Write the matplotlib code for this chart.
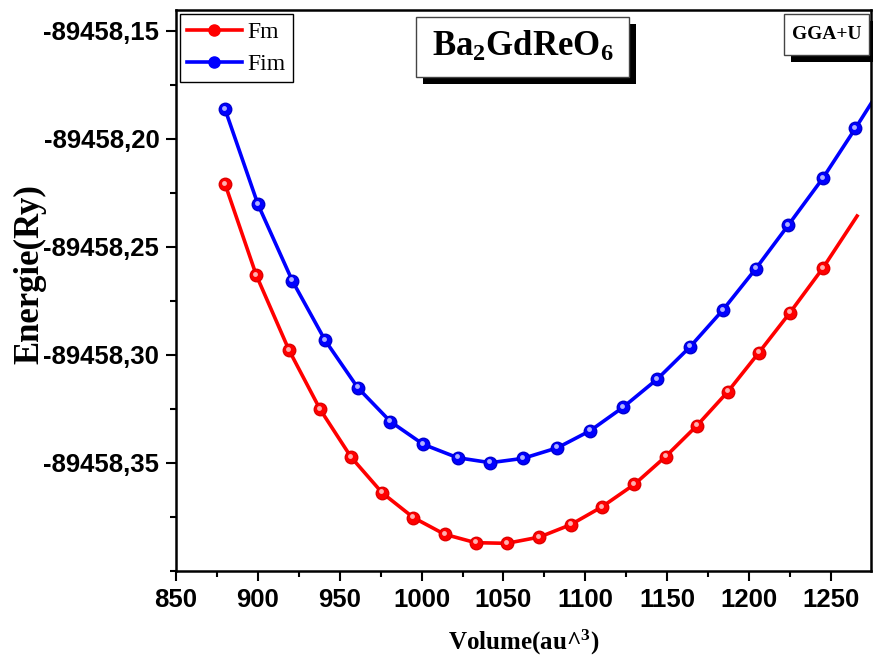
import numpy as np
import matplotlib
matplotlib.use("Agg")
import matplotlib.pyplot as plt
from matplotlib.ticker import FuncFormatter, AutoMinorLocator
from matplotlib.patches import Rectangle
from matplotlib.transforms import ScaledTranslation

plt.rcParams['mathtext.fontset'] = 'custom'
plt.rcParams['mathtext.rm'] = 'Liberation Serif:bold'
plt.rcParams['mathtext.it'] = 'Liberation Serif:bold'
plt.rcParams['mathtext.bf'] = 'Liberation Serif:bold'

# Donnees (Volume en au^3, Energie en Ry)
v_fm = [880, 899, 919, 938, 957, 976, 995, 1014, 1033, 1052,
        1072, 1091, 1110, 1130, 1149, 1168, 1187, 1206, 1225, 1245]
e_fm = [-89458.2211, -89458.2631, -89458.2978, -89458.3252, -89458.3474,
        -89458.3639, -89458.3753, -89458.3830, -89458.3869, -89458.3872,
        -89458.3843, -89458.3786, -89458.3704, -89458.3599, -89458.3471,
        -89458.3329, -89458.3171, -89458.2990, -89458.2805, -89458.2600]
# fin de la courbe ajustee (sans symbole)
v_fm_end, e_fm_end = 1266, -89458.2358

v_fim = [880, 900, 921, 941, 961, 981, 1001, 1022, 1042, 1062,
         1083, 1103, 1123, 1144, 1164, 1184, 1204, 1224, 1245, 1265]
e_fim = [-89458.1865, -89458.2303, -89458.2657, -89458.2932, -89458.3152,
         -89458.3309, -89458.3414, -89458.3476, -89458.3499, -89458.3479,
         -89458.3430, -89458.3351, -89458.3243, -89458.3112, -89458.2963,
         -89458.2793, -89458.2603, -89458.2400, -89458.2184, -89458.1952]
v_fim_end, e_fim_end = 1276, -89458.1820

y_ticks = [-89458.35, -89458.30, -89458.25, -89458.20, -89458.15]
x_ticks = [850, 900, 950, 1000, 1050, 1100, 1150, 1200, 1250]

fig = plt.figure(figsize=(8.73, 6.60), dpi=100)
ax = fig.add_axes([176/873, 89/660, 695/873, 561/660])

lx_fm = v_fm + [v_fm_end]
ly_fm = e_fm + [e_fm_end]
lx_fim = v_fim + [v_fim_end]
ly_fim = e_fim + [e_fim_end]

ax.plot(lx_fm, ly_fm, color='#ff0000', lw=2.6, zorder=2)
ax.plot(lx_fim, ly_fim, color='#0000ff', lw=2.6, zorder=2)
ax.plot(v_fm, e_fm, ls='None', marker='o', ms=9, color='#ff0000',
        mec='#e00000', zorder=3)
ax.plot(v_fim, e_fim, ls='None', marker='o', ms=9, color='#0000ff',
        mec='#0000d0', zorder=3)
# petit reflet sur les boules
hl = ax.transData + ScaledTranslation(-1/100, 1.5/100, fig.dpi_scale_trans)
ax.plot(v_fm, e_fm, ls='None', marker='o', ms=3.5, color='#ffb0b0',
        mec='none', transform=hl, zorder=4)
ax.plot(v_fim, e_fim, ls='None', marker='o', ms=3.5, color='#b0b0ff',
        mec='none', transform=hl, zorder=4)

# legende
h1, = ax.plot([], [], color='#ff0000', lw=2.6, marker='o', ms=8, label='Fm')
h2, = ax.plot([], [], color='#0000ff', lw=2.6, marker='o', ms=8, label='Fim')
leg = ax.legend(handles=[h1, h2], loc='upper left', bbox_to_anchor=(0.006, 0.992),
                prop={'family': 'Liberation Serif', 'size': 17},
                fancybox=False, edgecolor='black', framealpha=1,
                handlelength=2.3, handletextpad=0.25, borderpad=0.3,
                labelspacing=0.45, borderaxespad=0)
leg.get_frame().set_linewidth(1.0)

ax.set_xlim(850, 1274.5)
ax.set_ylim(-89458.40, -89458.1405)
ax.set_xticks(x_ticks)
ax.set_yticks(y_ticks)
ax.xaxis.set_minor_locator(AutoMinorLocator(2))
ax.yaxis.set_minor_locator(AutoMinorLocator(2))
ax.yaxis.set_major_formatter(FuncFormatter(lambda v, p: f"{v:.2f}".replace('.', ',')))
ax.tick_params(which='major', direction='out', length=7, width=1.5, pad=5)
ax.tick_params(which='minor', direction='out', length=4, width=1.5)
for lab in ax.get_xticklabels() + ax.get_yticklabels():
    lab.set_fontfamily('Liberation Sans')
    lab.set_fontweight('bold')
    lab.set_fontsize(18.5)
for s in ax.spines.values():
    s.set_linewidth(1.8)

ax.set_xlabel('Volume(au^$^3$)', family='Liberation Serif', weight='bold', fontsize=18, va='center')
ax.xaxis.set_label_coords(0.5, -0.127)
ax.set_ylabel('Energie(Ry)', family='Liberation Serif', weight='bold', fontsize=25, va='center')
ax.yaxis.set_label_coords(-0.21, 0.53)

# boites avec ombre
def boite(x0, y0, x1, y1, d, texte, taille):
    W, H = 873, 660
    fig.patches.append(Rectangle(((x0 + d)/W, 1 - (y1 + d)/H), (x1 - x0)/W, (y1 - y0)/H,
                                 transform=fig.transFigure, facecolor='black',
                                 edgecolor='none', zorder=5))
    fig.patches.append(Rectangle((x0/W, 1 - y1/H), (x1 - x0)/W, (y1 - y0)/H,
                                 transform=fig.transFigure, facecolor='white',
                                 edgecolor='#444444', lw=1.0, zorder=6))
    fig.text((x0 + x1)/2/W, 1 - (y0 + y1)/2/H, texte, ha='center', va='center',
             family='Liberation Serif', weight='bold', fontsize=taille, zorder=7)

boite(416, 17, 629, 77, 7, r'Ba$_2$GdReO$_6$', 25)
boite(784, 14, 869, 55, 7, 'GGA+U', 14)

fig.savefig('out.png', dpi=100)
